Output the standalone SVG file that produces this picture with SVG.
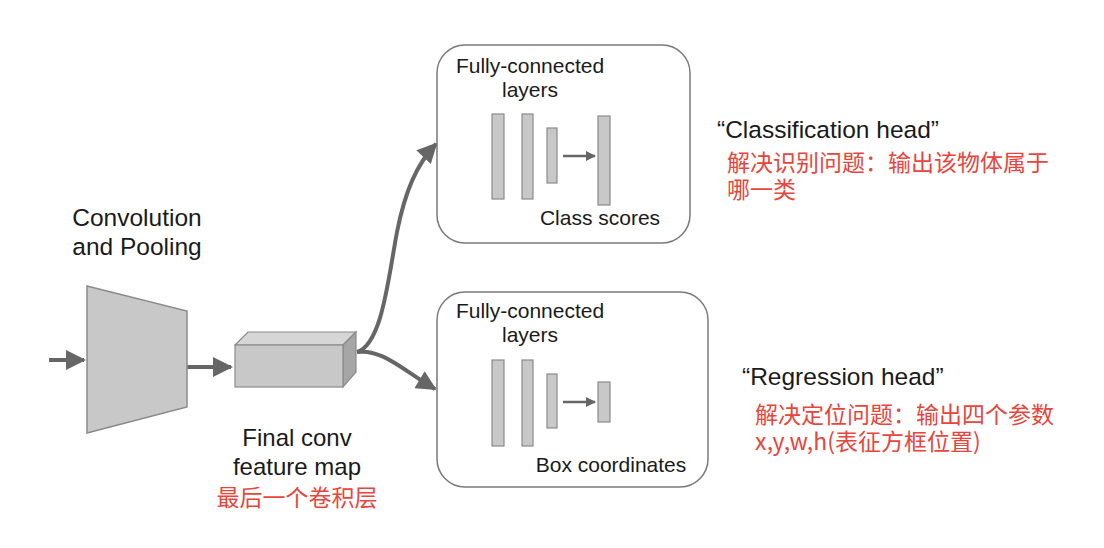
<svg xmlns="http://www.w3.org/2000/svg" width="1104" height="548" viewBox="0 0 1104 548">
<defs>
<style>
.t{font-family:"Liberation Sans",Arial,sans-serif;fill:#1a1a1a}
.cn{font-family:"Noto Sans CJK SC",sans-serif;fill:#e8453c;font-size:23px}
.bar{fill:#c8c8c8;stroke:#8a8a8a;stroke-width:1.2}
.box{fill:#fff;stroke:#7a7a7a;stroke-width:1.5}
.ln{fill:none;stroke:#666;stroke-width:4}
.sm{fill:none;stroke:#666;stroke-width:2.5}
</style>
<marker id="ah" viewBox="0 0 10 10" refX="9" refY="5" markerWidth="5.5" markerHeight="5" markerUnits="strokeWidth" orient="auto">
<path d="M0,0 L10,5 L0,10 Z" fill="#666"/>
</marker>
<marker id="ahs" viewBox="0 0 10 10" refX="9" refY="5" markerWidth="5" markerHeight="4" markerUnits="strokeWidth" orient="auto">
<path d="M0,0 L10,5 L0,10 Z" fill="#666"/>
</marker>
</defs>
<rect width="1104" height="548" fill="#fff"/>

<g id="connectors">
<path class="ln" d="M49,360 L84,360" marker-end="url(#ah)"/>
<path class="ln" d="M187,367 L231,367" marker-end="url(#ah)"/>
<path class="ln" d="M357,352 C382,344 388,280 397,232 C405,192 416,165 436,144" marker-end="url(#ah)"/>
<path class="ln" d="M357,352 C382,349 400,368 435,389" marker-end="url(#ah)"/>
</g>

<g id="conv-pool">
<polygon points="87,286 187,311 187,407 87,433" fill="#c8c8c8" stroke="#8a8a8a" stroke-width="1.5"/>
<text class="t" font-size="24.5" x="137" y="226" text-anchor="middle">Convolution</text>
<text class="t" font-size="24.5" x="137" y="255" text-anchor="middle">and Pooling</text>
</g>

<g id="feature-map">
<polygon points="235,345 248,332 356,332 343,345" fill="#d6d6d6" stroke="#8a8a8a" stroke-width="1.2"/>
<polygon points="343,345 356,332 356,372 343,387" fill="#a6a6a6" stroke="#8a8a8a" stroke-width="1.2"/>
<rect x="235" y="345" width="108" height="42" fill="#c8c8c8" stroke="#8a8a8a" stroke-width="1.2"/>
<text class="t" font-size="24" x="297" y="446" text-anchor="middle">Final conv</text>
<text class="t" font-size="24" x="297" y="475" text-anchor="middle">feature map</text>
<text class="cn" x="297" y="506" text-anchor="middle">最后一个卷积层</text>
</g>

<g id="cls-head">
<rect class="box" x="437" y="45" width="253" height="198" rx="28"/>
<text class="t" font-size="21" x="530" y="73" text-anchor="middle">Fully-connected</text>
<text class="t" font-size="21" x="530" y="97" text-anchor="middle">layers</text>
<rect class="bar" x="492" y="114" width="12" height="85"/>
<rect class="bar" x="522" y="114" width="11" height="85"/>
<rect class="bar" x="547" y="128" width="10" height="55"/>
<path class="sm" d="M563,156 L595,156" marker-end="url(#ahs)"/>
<rect class="bar" x="598" y="116" width="12" height="89"/>
<text class="t" font-size="21" x="600" y="225" text-anchor="middle">Class scores</text>
</g>

<g id="reg-head">
<rect class="box" x="437" y="292" width="271" height="195" rx="28"/>
<text class="t" font-size="21" x="530" y="318" text-anchor="middle">Fully-connected</text>
<text class="t" font-size="21" x="530" y="342" text-anchor="middle">layers</text>
<rect class="bar" x="492" y="360" width="12" height="86"/>
<rect class="bar" x="522" y="360" width="11" height="86"/>
<rect class="bar" x="547" y="374" width="10" height="54"/>
<path class="sm" d="M563,402 L595,402" marker-end="url(#ahs)"/>
<rect class="bar" x="598" y="382" width="12" height="40"/>
<text class="t" font-size="21" x="611" y="472" text-anchor="middle">Box coordinates</text>
</g>

<g id="cls-label">
<text class="t" font-size="24.5" x="717" y="138">“Classification head”</text>
<text class="cn" x="727" y="171">解决识别问题：输出该物体属于</text>
<text class="cn" x="727" y="198">哪一类</text>
</g>

<g id="reg-label">
<text class="t" font-size="24.5" x="742" y="385">“Regression head”</text>
<text class="cn" x="755" y="423">解决定位问题：输出四个参数</text>
<text class="cn" x="755" y="450">x,y,w,h(表征方框位置)</text>
</g>
</svg>
